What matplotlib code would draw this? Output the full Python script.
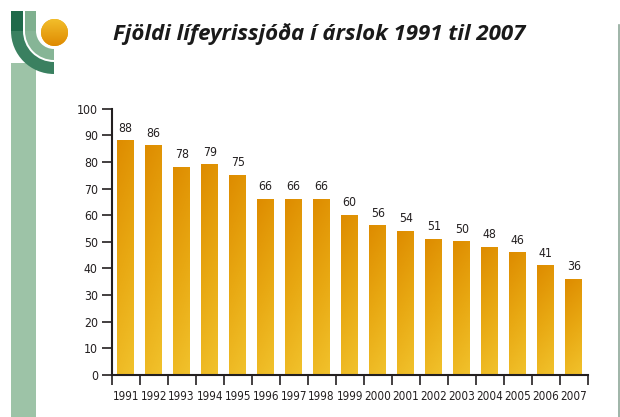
import numpy as np
import matplotlib
matplotlib.use("Agg")
import matplotlib.pyplot as plt
from matplotlib.patches import Rectangle, Wedge, Circle
from matplotlib.colors import LinearSegmentedColormap
from matplotlib.font_manager import FontProperties

years = [str(y) for y in range(1991, 2008)]
counts = [88, 86, 78, 79, 75, 66, 66, 66, 60, 56, 54, 51, 50, 48, 46, 41, 36]
title = "Fjöldi lífeyrissjóða í árslok 1991 til 2007"

W, H = 620, 417
fig = plt.figure(figsize=(W / 100, H / 100), dpi=100)
fig.patch.set_facecolor("white")

txt = "#231f20"
val_font = dict(family="DejaVu Sans", stretch="condensed", size=8.8)
x_font = dict(family="DejaVu Sans", stretch="condensed", size=8.4)

# decoration in pixel coords (y down)
deco = fig.add_axes([0, 0, 1, 1])
deco.set_xlim(0, W)
deco.set_ylim(H, 0)
deco.axis("off")
deco.add_patch(Rectangle((11, 63), 25, H - 63, color="#9dc3a7", lw=0))
# logo bands
deco.add_patch(Rectangle((11, 11), 12, 20, color="#1f6a4a", lw=0))
deco.add_patch(Wedge((54, 31), 43, 90, 180, width=12, color="#3a8060", lw=0))
deco.add_patch(Rectangle((25, 11), 11, 20, color="#7fb08f", lw=0))
deco.add_patch(Wedge((54, 31), 29, 90, 180, width=11, color="#86b596", lw=0))
sun = Circle((54.5, 32.5), 13.5, color="#e9a20c", lw=0)
deco.add_patch(sun)
grad = np.linspace(0, 1, 64).reshape(-1, 1)
sun_cmap = LinearSegmentedColormap.from_list("sun", ["#f3c02c", "#de8800"])
im = deco.imshow(grad, cmap=sun_cmap, extent=(40, 69, 47, 18), aspect="auto", zorder=3)
im.set_clip_path(sun)
deco.plot([619, 619], [25, H], color="#8fa89a", lw=1.2)
deco.text(113, 34, title, fontsize=16, fontweight="bold", fontstyle="italic",
          family=["Open Sans", "DejaVu Sans"], color="#1a1a1a", va="center", ha="left")

ax = fig.add_axes([111.7 / W, (H - 375) / H, 476 / W, 266.3 / H])
x = np.arange(len(years))
bars = ax.bar(x, counts, width=0.6, color="none", edgecolor="none")
bar_cmap = LinearSegmentedColormap.from_list("bar", ["#f1c22c", "#e8a812", "#de8c00"])
gx, gy = np.meshgrid(np.linspace(0, 1, 20), np.linspace(0, 1, 80))
g = np.clip(0.85 * gy + 0.15 * (1 - gx), 0, 1)
for b, v in zip(bars, counts):
    x0 = b.get_x()
    w = b.get_width()
    ax.imshow(g, cmap=bar_cmap, extent=(x0, x0 + w, 0, v), origin="lower",
              aspect="auto", zorder=2)
    ax.text(x0 + w / 2, v + 2.2, str(v), ha="center", va="bottom", color=txt, **val_font)

ax.set_xlim(-0.5, len(years) - 0.5)
ax.set_ylim(0, 100)
ax.set_yticks(range(0, 101, 10))
ax.set_xticks(x)
ax.set_xticklabels(years)
ax.set_xticks(np.arange(-0.5, len(years)), minor=True)
ax.tick_params(axis="x", which="major", length=0, pad=11, labelcolor=txt)
ax.tick_params(axis="x", which="minor", length=7, width=1.2, direction="out", color=txt)
ax.tick_params(axis="y", length=7, width=1.2, direction="out",
               labelcolor=txt, color=txt, pad=3)
for lab in ax.get_xticklabels():
    lab.set_fontproperties(FontProperties(**x_font))
for lab in ax.get_yticklabels():
    lab.set_fontproperties(FontProperties(**val_font))
for s in ["top", "right"]:
    ax.spines[s].set_visible(False)
ax.spines["left"].set_linewidth(1.5)
ax.spines["bottom"].set_linewidth(1.5)
ax.spines["left"].set_color(txt)
ax.spines["bottom"].set_color(txt)
ax.set_facecolor("none")

fig.savefig("out.png", dpi=100, facecolor="white")
